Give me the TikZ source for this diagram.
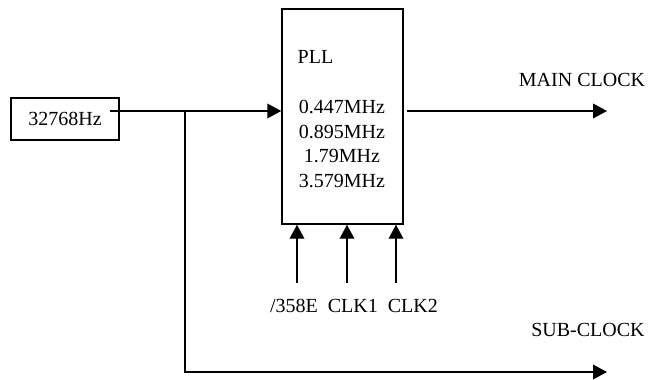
\documentclass[tikz,border=0pt]{standalone}
\usepackage{fontspec}
\setmainfont{Liberation Serif}
\usetikzlibrary{arrows.meta,positioning}

\begin{document}
\begin{tikzpicture}[x=0.75pt, y=-0.75pt, >={Triangle[length=10.5pt,width=11pt]},
  line width=1.1pt, font=\fontsize{15}{18.4}\selectfont,
  box/.style={draw, rectangle, inner sep=0pt},
  lbl/.style={inner sep=0pt, align=center}]
\useasboundingbox (0,0) rectangle (649,379);
% oscillator and PLL
\node[box, minimum width=81pt, minimum height=31.5pt] (osc) at (65,119) {32768Hz};
\node[box, minimum width=90.75pt, minimum height=161.25pt] (pll) at (342.5,116.5) {};
\node[lbl, anchor=west] (pllname) at (297,57) {PLL};
\node[lbl] (freq) at (342,144) {0.447MHz\\0.895MHz\\1.79MHz\\3.579MHz};
% connectors
\coordinate (in) at (110,111);
\coordinate (br) at (185,111);
\draw[->] (in) -- (in -| pll.west);
\draw[->] (br) |- (607,372) coordinate (subend);
\coordinate (mainstart) at (407,111);
\coordinate (mainend) at (607,111);
\draw[->] (mainstart) -- (mainend);
\foreach \x/\name in {297/sel, 347/clka, 396/clkb}
  \draw[->] (\x,283) coordinate (\name) -- (\name |- pll.south);
% labels
\node[lbl] (ctl) at (354,306) {/358E\ \ CLK1\ \ CLK2};
\node[lbl] (mainlbl) at (582,80) {MAIN CLOCK};
\node[lbl] (sublbl) at (588,330) {SUB-CLOCK};
\end{tikzpicture}
\end{document}
